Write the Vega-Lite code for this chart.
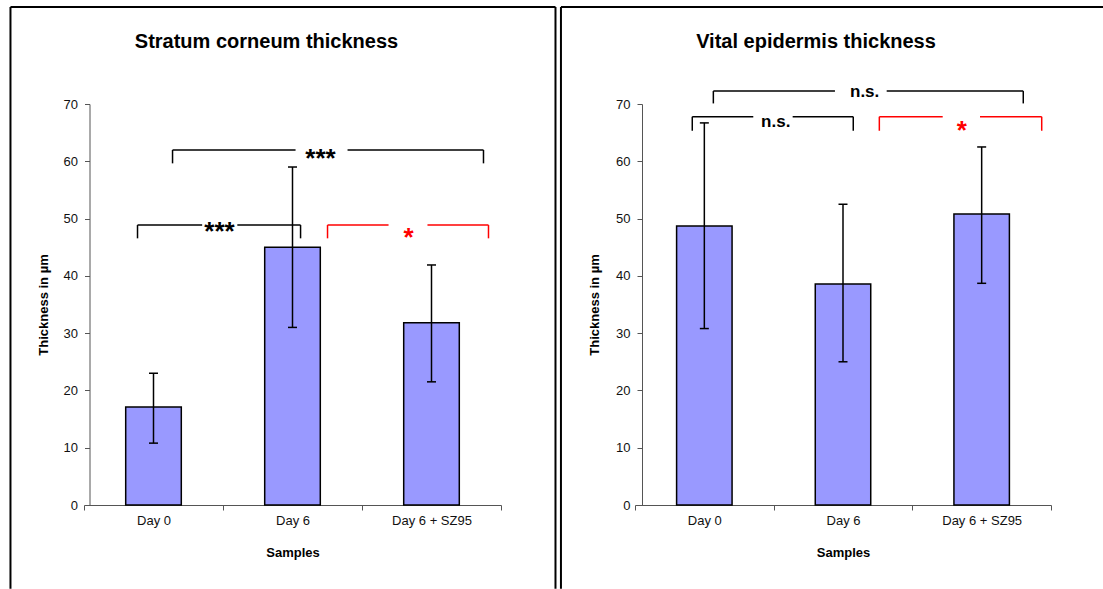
{
  "$schema": "https://vega.github.io/schema/vega-lite/v6.json",
  "padding": {"left": 9, "top": 6, "right": 0, "bottom": 0},
  "spacing": 2,
  "background": "white",
  "config": {
    "view": {"stroke": null},
    "font": "Liberation Sans",
    "axis": {"labelFont": "Liberation Sans", "titleFont": "Liberation Sans", "grid": false}
  },
  "datasets": {
    "sc": [
      {"sample": "Day 0", "mean": 17.1, "lo": 10.8, "hi": 23.0},
      {"sample": "Day 6", "mean": 45.0, "lo": 31.0, "hi": 59.0},
      {"sample": "Day 6 + SZ95", "mean": 31.8, "lo": 21.5, "hi": 41.9}
    ],
    "ve": [
      {"sample": "Day 0", "mean": 48.7, "lo": 30.8, "hi": 66.7},
      {"sample": "Day 6", "mean": 38.6, "lo": 25.0, "hi": 52.5},
      {"sample": "Day 6 + SZ95", "mean": 50.8, "lo": 38.7, "hi": 62.5}
    ],
    "sc_brackets": [
      {"x": 0.385, "x2": 0.850, "y": 48.87, "y2": 48.87, "hl": "no"},
      {"x": 1.103, "x2": 1.558, "y": 48.87, "y2": 48.87, "hl": "no"},
      {"x": 0.385, "x2": 0.385, "y": 48.87, "y2": 46.55, "hl": "no"},
      {"x": 1.558, "x2": 1.558, "y": 48.87, "y2": 46.55, "hl": "no"},
      {"x": 0.637, "x2": 1.522, "y": 61.97, "y2": 61.97, "hl": "no"},
      {"x": 1.896, "x2": 2.874, "y": 61.97, "y2": 61.97, "hl": "no"},
      {"x": 0.637, "x2": 0.637, "y": 61.97, "y2": 59.64, "hl": "no"},
      {"x": 2.874, "x2": 2.874, "y": 61.97, "y2": 59.64, "hl": "no"},
      {"x": 1.752, "x2": 2.191, "y": 48.87, "y2": 48.87, "hl": "yes"},
      {"x": 2.471, "x2": 2.910, "y": 48.87, "y2": 48.87, "hl": "yes"},
      {"x": 1.752, "x2": 1.752, "y": 48.87, "y2": 46.55, "hl": "yes"},
      {"x": 2.910, "x2": 2.910, "y": 48.87, "y2": 46.55, "hl": "yes"}
    ],
    "ve_brackets": [
      {"x": 0.565, "x2": 1.442, "y": 72.26, "y2": 72.26, "hl": "no"},
      {"x": 1.815, "x2": 2.800, "y": 72.26, "y2": 72.26, "hl": "no"},
      {"x": 0.565, "x2": 0.565, "y": 72.26, "y2": 70.10, "hl": "no"},
      {"x": 2.800, "x2": 2.800, "y": 72.26, "y2": 70.10, "hl": "no"},
      {"x": 0.413, "x2": 0.853, "y": 67.78, "y2": 67.78, "hl": "no"},
      {"x": 1.137, "x2": 1.574, "y": 67.78, "y2": 67.78, "hl": "no"},
      {"x": 0.413, "x2": 0.413, "y": 67.78, "y2": 65.33, "hl": "no"},
      {"x": 1.574, "x2": 1.574, "y": 67.78, "y2": 65.33, "hl": "no"},
      {"x": 1.762, "x2": 2.219, "y": 67.78, "y2": 67.78, "hl": "yes"},
      {"x": 2.488, "x2": 2.933, "y": 67.78, "y2": 67.78, "hl": "yes"},
      {"x": 1.762, "x2": 1.762, "y": 67.78, "y2": 65.33, "hl": "yes"},
      {"x": 2.933, "x2": 2.933, "y": 67.78, "y2": 65.33, "hl": "yes"}
    ],
    "sc_labels": [
      {"x": 0.975, "y": 46.3, "label": "***", "hl": "no"},
      {"x": 1.701, "y": 59.0, "label": "***", "hl": "no"},
      {"x": 2.335, "y": 45.28, "label": "*", "hl": "yes"}
    ],
    "ve_labels": [
      {"x": 1.656, "y": 71.2, "label": "n.s.", "hl": "no"},
      {"x": 1.015, "y": 66.0, "label": "n.s.", "hl": "no"},
      {"x": 2.356, "y": 63.9, "label": "*", "hl": "yes"}
    ],
    "sc_frame": [
      {"x": -0.529, "x2": 3.392, "y": 86.93, "y2": 86.93},
      {"x": -0.529, "x2": -0.529, "y": 86.93, "y2": -14.6},
      {"x": 3.392, "x2": 3.392, "y": 86.93, "y2": -14.6}
    ],
    "ve_frame": [
      {"x": -0.534, "x2": 3.375, "y": 86.93, "y2": 86.93},
      {"x": -0.534, "x2": -0.534, "y": 86.93, "y2": -14.6}
    ]
  },
  "hconcat": [
    {
      "title": {"text": "Stratum corneum thickness", "fontSize": 20, "fontWeight": "bold", "font": "Liberation Sans", "color": "#000", "dx": -26, "baseline": "alphabetic", "offset": -62},
      "width": 417,
      "height": 401,
      "resolve": {"scale": {"x": "independent", "y": "independent"}},
      "layer": [
        {
          "data": {"name": "sc"},
          "encoding": {
            "x": {"field": "sample", "type": "nominal", "sort": null,
              "scale": {"paddingInner": 0, "paddingOuter": 0},
              "axis": {"title": "Samples", "labelAngle": 0, "tickBand": "extent", "domainColor": "#555", "tickColor": "#555", "tickSize": 5, "labelPadding": 4, "labelFontSize": 13, "labelColor": "#111", "titleFontSize": 13, "titleFontWeight": "bold", "titleColor": "#000", "titlePadding": 19}},
            "y": {"type": "quantitative", "scale": {"domain": [0, 70], "nice": false}}
          },
          "layer": [
            {"mark": {"type": "bar", "width": {"band": 0.4}, "fill": "#9999ff", "stroke": "#000", "strokeWidth": 1.5},
             "encoding": {"y": {"field": "mean", "type": "quantitative",
               "axis": {"title": "Thickness in µm", "values": [0, 10, 20, 30, 40, 50, 60, 70], "offset": -5.5, "domainColor": "#555", "tickColor": "#555", "tickSize": 5, "labelPadding": 7, "labelFontSize": 13, "labelColor": "#111", "titleFontSize": 13, "titleFontWeight": "bold", "titleColor": "#000", "titlePadding": 13}}}},
            {"mark": {"type": "rule", "color": "#000", "strokeWidth": 1.5},
             "encoding": {"y": {"field": "lo", "type": "quantitative"}, "y2": {"field": "hi"}}},
            {"mark": {"type": "tick", "color": "#000", "thickness": 1.5, "size": 9, "opacity": 1},
             "encoding": {"y": {"field": "lo", "type": "quantitative"}}},
            {"mark": {"type": "tick", "color": "#000", "thickness": 1.5, "size": 9, "opacity": 1},
             "encoding": {"y": {"field": "hi", "type": "quantitative"}}}
          ]
        },
        {
          "encoding": {
            "x": {"field": "x", "type": "quantitative", "scale": {"domain": [0, 3], "nice": false, "zero": false}, "axis": null},
            "y": {"field": "y", "type": "quantitative", "scale": {"domain": [0, 70], "nice": false}, "axis": null}
          },
          "layer": [
            {"data": {"name": "sc_brackets"}, "mark": {"type": "rule", "strokeWidth": 1.5},
             "encoding": {"x2": {"field": "x2"}, "y2": {"field": "y2"},
               "color": {"field": "hl", "type": "nominal", "scale": {"domain": ["no", "yes"], "range": ["#000000", "#ff0000"]}, "legend": null}}},
            {"data": {"name": "sc_frame"}, "mark": {"type": "rule", "strokeWidth": 2, "color": "#000"},
             "encoding": {"x2": {"field": "x2"}, "y2": {"field": "y2"}}},
            {"data": {"name": "sc_labels"}, "mark": {"type": "text", "font": "Liberation Sans", "fontWeight": "bold", "fontSize": 26, "align": "center", "baseline": "alphabetic"},
             "encoding": {"text": {"field": "label"},
               "color": {"field": "hl", "type": "nominal", "scale": {"domain": ["no", "yes"], "range": ["#000000", "#ff0000"]}, "legend": null}}}
          ]
        }
      ]
    },
    {
      "title": {"text": "Vital epidermis thickness", "fontSize": 20, "fontWeight": "bold", "font": "Liberation Sans", "color": "#000", "dx": -27, "baseline": "alphabetic", "offset": -62},
      "width": 416,
      "height": 401,
      "resolve": {"scale": {"x": "independent", "y": "independent"}},
      "layer": [
        {
          "data": {"name": "ve"},
          "encoding": {
            "x": {"field": "sample", "type": "nominal", "sort": null,
              "scale": {"paddingInner": 0, "paddingOuter": 0},
              "axis": {"title": "Samples", "labelAngle": 0, "tickBand": "extent", "domainColor": "#555", "tickColor": "#555", "tickSize": 5, "labelPadding": 4, "labelFontSize": 13, "labelColor": "#111", "titleFontSize": 13, "titleFontWeight": "bold", "titleColor": "#000", "titlePadding": 19}},
            "y": {"type": "quantitative", "scale": {"domain": [0, 70], "nice": false}}
          },
          "layer": [
            {"mark": {"type": "bar", "width": {"band": 0.4}, "fill": "#9999ff", "stroke": "#000", "strokeWidth": 1.5},
             "encoding": {"y": {"field": "mean", "type": "quantitative",
               "axis": {"title": "Thickness in µm", "values": [0, 10, 20, 30, 40, 50, 60, 70], "offset": -7, "domainColor": "#555", "tickColor": "#555", "tickSize": 5, "labelPadding": 7, "labelFontSize": 13, "labelColor": "#111", "titleFontSize": 13, "titleFontWeight": "bold", "titleColor": "#000", "titlePadding": 14}}}},
            {"mark": {"type": "rule", "color": "#000", "strokeWidth": 1.5},
             "encoding": {"y": {"field": "lo", "type": "quantitative"}, "y2": {"field": "hi"}}},
            {"mark": {"type": "tick", "color": "#000", "thickness": 1.5, "size": 9, "opacity": 1},
             "encoding": {"y": {"field": "lo", "type": "quantitative"}}},
            {"mark": {"type": "tick", "color": "#000", "thickness": 1.5, "size": 9, "opacity": 1},
             "encoding": {"y": {"field": "hi", "type": "quantitative"}}}
          ]
        },
        {
          "encoding": {
            "x": {"field": "x", "type": "quantitative", "scale": {"domain": [0, 3], "nice": false, "zero": false}, "axis": null},
            "y": {"field": "y", "type": "quantitative", "scale": {"domain": [0, 70], "nice": false}, "axis": null}
          },
          "layer": [
            {"data": {"name": "ve_brackets"}, "mark": {"type": "rule", "strokeWidth": 1.5},
             "encoding": {"x2": {"field": "x2"}, "y2": {"field": "y2"},
               "color": {"field": "hl", "type": "nominal", "scale": {"domain": ["no", "yes"], "range": ["#000000", "#ff0000"]}, "legend": null}}},
            {"data": {"name": "ve_frame"}, "mark": {"type": "rule", "strokeWidth": 2, "color": "#000"},
             "encoding": {"x2": {"field": "x2"}, "y2": {"field": "y2"}}},
            {"data": {"name": "ve_labels"}, "transform": [{"filter": "datum.label == 'n.s.'"}], "mark": {"type": "text", "font": "Liberation Sans", "fontWeight": "bold", "fontSize": 17, "align": "center", "baseline": "alphabetic"},
             "encoding": {"text": {"field": "label"}, "color": {"value": "#000"}}},
            {"data": {"name": "ve_labels"}, "transform": [{"filter": "datum.label != 'n.s.'"}], "mark": {"type": "text", "font": "Liberation Sans", "fontWeight": "bold", "fontSize": 26, "align": "center", "baseline": "alphabetic"},
             "encoding": {"text": {"field": "label"}, "color": {"value": "#ff0000"}}}
          ]
        }
      ]
    }
  ]
}
